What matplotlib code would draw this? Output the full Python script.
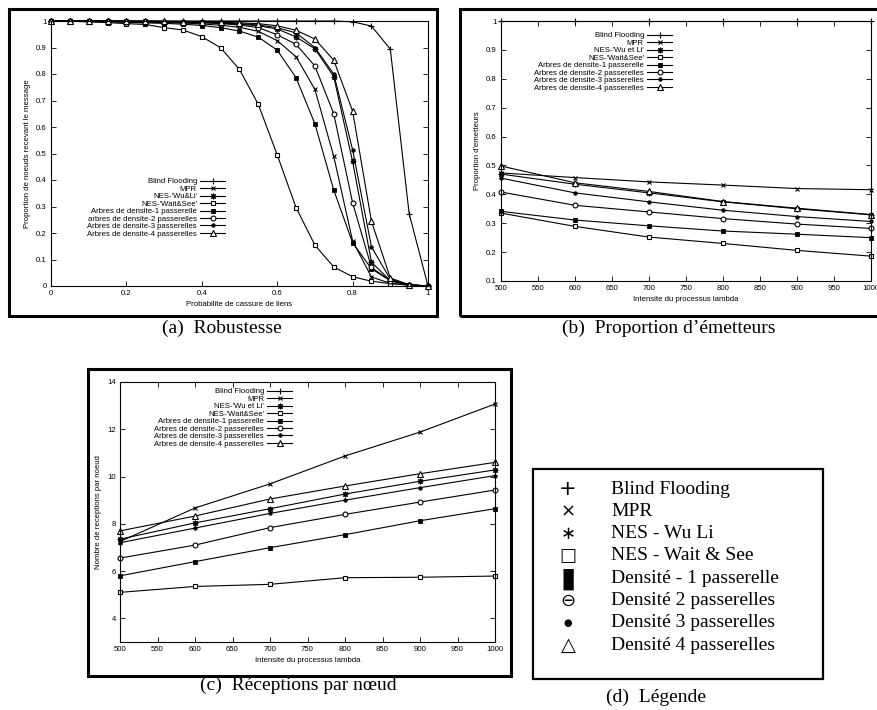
import matplotlib
matplotlib.use("Agg")
import matplotlib.pyplot as plt
from matplotlib.patches import Rectangle
from matplotlib.ticker import FuncFormatter

W, H = 878, 710

# ---------------- data ----------------
prob = [0.0, 0.05, 0.1, 0.15, 0.2, 0.25, 0.3, 0.35, 0.4, 0.45, 0.5,
        0.55, 0.6, 0.65, 0.7, 0.75, 0.8, 0.85, 0.9, 0.95, 1.0]
rob_blind = [1, 1, 1, 1, 1, 1, 1, 1, 1, 1, 1, 1, 1, 1, 1, 1, 0.997, 0.981, 0.894, 0.273, 0.0]
rob_mpr = [1, 1, 0.999, 0.998, 0.997, 0.996, 0.994, 0.992, 0.989, 0.984, 0.976,
           0.961, 0.926, 0.865, 0.742, 0.489, 0.17, 0.034, 0.01, 0.003, 0.0]
rob_wuli = [1, 1, 1, 1, 0.999, 0.999, 0.998, 0.997, 0.995, 0.993, 0.988,
            0.982, 0.97, 0.94, 0.895, 0.79, 0.47, 0.09, 0.02, 0.004, 0.0]
rob_ws = [1, 0.999, 0.997, 0.994, 0.99, 0.987, 0.975, 0.966, 0.941, 0.899, 0.817,
          0.685, 0.495, 0.296, 0.154, 0.072, 0.035, 0.018, 0.009, 0.004, 0.0]
rob_d1 = [1, 0.999, 0.998, 0.997, 0.995, 0.993, 0.991, 0.988, 0.983, 0.975, 0.962,
          0.939, 0.89, 0.786, 0.612, 0.362, 0.163, 0.065, 0.02, 0.004, 0.0]
rob_d2 = [1, 1, 1, 0.999, 0.998, 0.997, 0.996, 0.995, 0.993, 0.99, 0.985,
          0.975, 0.948, 0.912, 0.83, 0.65, 0.314, 0.07, 0.02, 0.004, 0.0]
rob_d3 = [1, 1, 1, 1, 0.999, 0.999, 0.998, 0.997, 0.996, 0.994, 0.99,
          0.985, 0.975, 0.955, 0.9, 0.8, 0.514, 0.148, 0.025, 0.005, 0.0]
rob_d4 = [1, 1, 1, 1, 1, 0.999, 0.999, 0.998, 0.997, 0.995, 0.993,
          0.99, 0.982, 0.965, 0.932, 0.852, 0.66, 0.244, 0.03, 0.005, 0.0]

lam = [500, 600, 700, 800, 900, 1000]
em_blind = [1, 1, 1, 1, 1, 1]
em_mpr = [0.474, 0.458, 0.443, 0.432, 0.42, 0.416]
em_wuli = [0.47, 0.435, 0.405, 0.374, 0.35, 0.329]
em_ws = [0.335, 0.289, 0.252, 0.23, 0.206, 0.186]
em_d1 = [0.341, 0.311, 0.291, 0.273, 0.262, 0.25]
em_d2 = [0.408, 0.362, 0.339, 0.316, 0.297, 0.282]
em_d3 = [0.456, 0.405, 0.374, 0.345, 0.323, 0.306]
em_d4 = [0.498, 0.44, 0.41, 0.375, 0.352, 0.33]

rec_blind = []
rec_mpr = [7.25, 8.67, 9.69, 10.87, 11.88, 13.07]
rec_wuli = [7.35, 8.04, 8.64, 9.26, 9.80, 10.28]
rec_ws = [5.1, 5.35, 5.44, 5.72, 5.74, 5.79]
rec_d1 = [5.8, 6.4, 6.99, 7.54, 8.13, 8.64]
rec_d2 = [6.55, 7.1, 7.84, 8.40, 8.92, 9.43]
rec_d3 = [7.2, 7.82, 8.44, 9.0, 9.53, 10.04]
rec_d4 = [7.7, 8.33, 9.05, 9.60, 10.12, 10.60]

labels_a = ["Blind Flooding", "MPR", "NES-'Wu&Li'", "NES-'Wait&See'",
            "Arbres de densite-1 passerelle", "arbres de densite-2 passerelles",
            "Arbres de densite-3 passerelles", "Arbres de densite-4 passerelles"]
labels_bc = ["Blind Flooding", "MPR", "NES-'Wu et Li'", "NES-'Wait&See'",
             "Arbres de densite-1 passerelle", "Arbres de densite-2 passerelles",
             "Arbres de densite-3 passerelles", "Arbres de densite-4 passerelles"]

legend_d_symbols = ["+", "×", "∗", "□", "▮", "⊖", "●", "△"]
legend_d_labels = ["Blind Flooding", "MPR", "NES - Wu Li", "NES - Wait & See",
                   "Densité - 1 passerelle", "Densité 2 passerelles",
                   "Densité 3 passerelles", "Densité 4 passerelles"]
legend_d_symsizes = [15, 13, 13, 13, 20, 13, 7, 14]

captions = ["(a)  Robustesse", "(b)  Proportion d’émetteurs",
            "(c)  Réceptions par nœud", "(d)  Légende"]

# ---------------- styles ----------------
markers = [
    dict(marker="+", ms=4.5, mew=0.8),
    dict(marker="x", ms=3.5, mew=0.8),
    dict(marker=(8, 2, 0), ms=4, mew=0.8),
    dict(marker="s", ms=3.5, mew=0.8, mfc="white"),
    dict(marker="s", ms=3.5, mew=0.6, mfc="black"),
    dict(marker="o", ms=3.5, mew=0.8, mfc="white"),
    dict(marker="o", ms=2.5, mew=0.6, mfc="black"),
    dict(marker="^", ms=3.8, mew=0.8, mfc="white"),
]

SANS = "Liberation Sans"
SERIF = "Liberation Serif"
FS = 5.6

fig = plt.figure(figsize=(W / 100, H / 100), dpi=100)


def px_axes(l, t, r, b):
    return fig.add_axes([l / W, 1 - b / H, (r - l) / W, (b - t) / H])


def frame(l, t, r, b, lw=2.2):
    fig.patches.append(Rectangle((l / W, 1 - b / H), (r - l) / W, (b - t) / H,
                                 transform=fig.transFigure, fill=False,
                                 ec="black", lw=lw, zorder=0))


def gfmt(v, pos):
    return "%g" % round(v, 6)


def style_axes(ax, xlabel, ylabel):
    ax.tick_params(direction="in", top=True, right=True, length=3.5, width=0.6,
                   labelsize=FS, pad=3)
    for lab in ax.get_xticklabels() + ax.get_yticklabels():
        lab.set_family(SANS)
    ax.xaxis.set_major_formatter(FuncFormatter(gfmt))
    ax.yaxis.set_major_formatter(FuncFormatter(gfmt))
    for s in ax.spines.values():
        s.set_linewidth(0.8)
    ax.set_xlabel(xlabel, fontsize=FS, family=SANS, labelpad=3)
    ax.set_ylabel(ylabel, fontsize=FS, family=SANS, labelpad=4)


def draw(ax, x, series, labels):
    for ys, lab, mk in zip(series, labels, markers):
        ax.plot(x[:len(ys)], ys, color="black", lw=0.8, label=lab, clip_on=False, **mk)


def legend(ax, loc_xy):
    leg = ax.legend(loc="upper right", bbox_to_anchor=loc_xy, frameon=False,
                    markerfirst=False, handlelength=3.2, handletextpad=0.4,
                    labelspacing=0.0, borderpad=0, borderaxespad=0,
                    prop={"family": SANS, "size": FS})
    return leg


# ---------------- panel (a) ----------------
frame(9, 9, 437, 316)
ax = px_axes(51, 21, 428, 286)
draw(ax, prob, [rob_blind, rob_mpr, rob_wuli, rob_ws, rob_d1, rob_d2, rob_d3, rob_d4], labels_a)
ax.set_xlim(0, 1)
ax.set_ylim(0, 1)
ax.set_xticks([0, 0.2, 0.4, 0.6, 0.8, 1.0])
ax.set_yticks([i / 10 for i in range(11)])
style_axes(ax, "Probabilite de cassure de liens", "Proportion de noeuds recevant le message")
legend(ax, ((225 - 51) / 377, (286 - 178) / 265))

# ---------------- panel (b) ----------------
frame(460, 9, 890, 316)
ax = px_axes(501, 21, 871, 281)
draw(ax, lam, [em_blind, em_mpr, em_wuli, em_ws, em_d1, em_d2, em_d3, em_d4], labels_bc)
ax.set_xlim(500, 1000)
ax.set_ylim(0.1, 1)
ax.set_xticks(list(range(500, 1001, 50)))
ax.set_yticks([i / 10 for i in range(1, 11)])
style_axes(ax, "Intensite du processus lambda", "Proportion d'emetteurs")
legend(ax, ((672 - 501) / 370, (281 - 32) / 260))

# ---------------- panel (c) ----------------
frame(88, 369, 511, 676)
ax = px_axes(120, 382, 495, 642)
draw(ax, lam, [rec_blind, rec_mpr, rec_wuli, rec_ws, rec_d1, rec_d2, rec_d3, rec_d4], labels_bc)
ax.set_xlim(500, 1000)
ax.set_ylim(3, 14)
ax.set_xticks(list(range(500, 1001, 50)))
ax.set_yticks(list(range(4, 15, 2)))
style_axes(ax, "Intensite du processus lambda", "Nombre de receptions par noeud")
legend(ax, ((292 - 120) / 375, (642 - 388) / 260))

# ---------------- panel (d) legend box ----------------
frame(533, 469, 823, 679, lw=1.6)
for i, (sym, lab, ss) in enumerate(zip(legend_d_symbols, legend_d_labels, legend_d_symsizes)):
    y = 489 + i * 22.3
    fig.text(568 / W, 1 - y / H, sym, ha="center", va="center", fontsize=ss,
             family=["DejaVu Sans"])
    fig.text(611 / W, 1 - y / H, lab, ha="left", va="center", fontsize=14,
             family=SERIF)

# ---------------- captions ----------------
cap_pos = [(222, 328), (669, 328), (298, 685), (656, 697)]
for cap, (cx, cy) in zip(captions, cap_pos):
    fig.text(cx / W, 1 - cy / H, cap, ha="center", va="center", fontsize=14,
             family=SERIF)

fig.savefig("out.png", dpi=100)
